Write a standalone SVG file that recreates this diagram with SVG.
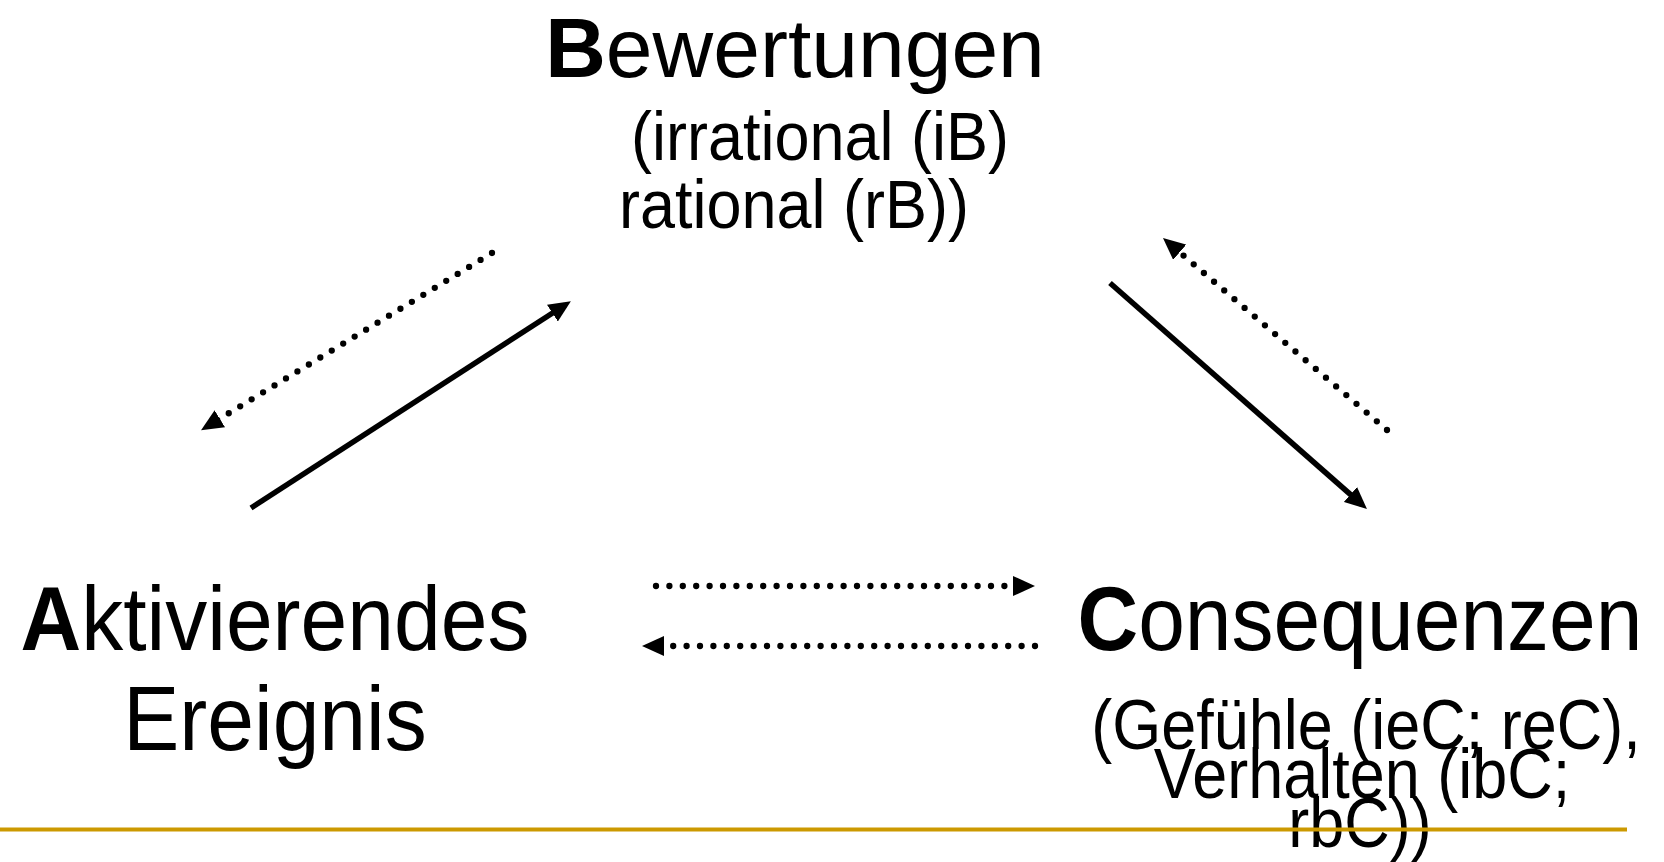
<svg xmlns="http://www.w3.org/2000/svg" width="1664" height="862" viewBox="0 0 1664 862">
  <style>
    text { font-family: "Liberation Sans", Arial, Helvetica, sans-serif; fill: #000; }
    .big { font-size: 84px; }
    .small { font-size: 63px; }
    .b { font-weight: bold; }
    .solid { fill: none; stroke: #000; stroke-width: 5.5; }
    .dotted { fill: none; stroke: #000; stroke-width: 6.3; stroke-linecap: round; stroke-dasharray: 0 13.4; }
  </style>
  <defs>
    <marker id="head" viewBox="0 0 22 20" refX="15" refY="10" markerWidth="22" markerHeight="20" markerUnits="userSpaceOnUse" orient="auto">
      <path d="M0,0 L22,10 L0,20 Z" fill="#000"/>
    </marker>
  </defs>

  <rect width="1664" height="862" fill="#fff"/>

  <!-- B: beliefs -->
  <g id="node-b">
    <text class="big" x="795" y="77" text-anchor="middle"><tspan class="b">B</tspan>ewertungen</text>
    <text class="small" transform="translate(820,160) scale(1,1.1)" text-anchor="middle">(irrational (iB)</text>
    <text class="small" transform="translate(794,228) scale(1,1.1)" text-anchor="middle">rational (rB))</text>
  </g>

  <!-- A: activating event -->
  <g id="node-a">
    <text class="big" transform="translate(275,650) scale(1,1.08)" text-anchor="middle"><tspan class="b">A</tspan>ktivierendes</text>
    <text class="big" transform="translate(275,750) scale(1,1.08)" text-anchor="middle">Ereignis</text>
  </g>

  <!-- C: consequences -->
  <g id="node-c">
    <text class="big" transform="translate(1360,650) scale(1,1.08)" text-anchor="middle"><tspan class="b">C</tspan>onsequenzen</text>
    <text class="small" transform="translate(1366,749) scale(1,1.12)" text-anchor="middle">(Gefühle (ieC; reC),</text>
    <text class="small" transform="translate(1362,798) scale(1,1.12)" text-anchor="middle">Verhalten (ibC;</text>
    <text class="small" transform="translate(1360,847) scale(1,1.12)" text-anchor="middle">rbC))</text>
  </g>

  <!-- connectors -->
  <g id="connectors">
    <line class="solid" x1="251" y1="508" x2="565" y2="305" marker-end="url(#head)"/>
    <line class="dotted" x1="492" y1="253" x2="207" y2="426.5" marker-end="url(#head)"/>
    <line class="solid" x1="1110" y1="283" x2="1361.7" y2="504.4" marker-end="url(#head)"/>
    <line class="dotted" x1="1387" y1="430" x2="1168.3" y2="242.5" marker-end="url(#head)"/>
    <line class="dotted" x1="656" y1="586" x2="1028" y2="586" marker-end="url(#head)"/>
    <line class="dotted" x1="1035" y1="646" x2="649" y2="646" marker-end="url(#head)"/>
  </g>

  <!-- footer rule -->
  <line id="footer-rule" x1="0" y1="829.5" x2="1627" y2="829.5" stroke="#CC9900" stroke-width="4"/>
</svg>
